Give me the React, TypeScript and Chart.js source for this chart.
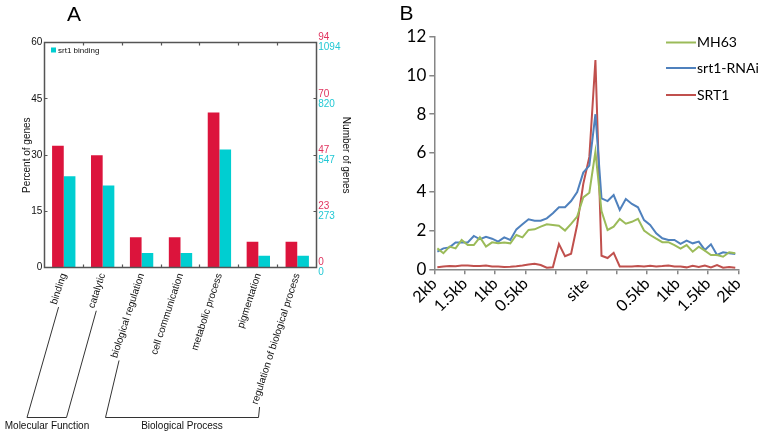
import React, { useEffect, useRef } from 'react';
import { Chart, registerables } from 'chart.js';
Chart.register(...registerables);

// ---------- Panel A data ----------
const goCategories = [
  'binding',
  'catalytic',
  'biological regulation',
  'cell communication',
  'metabolic process',
  'pigmentation',
  'regulation of biological process',
];
const genomePercent = [32.5, 30.0, 8.1, 8.1, 41.4, 6.9, 6.9];
const srt1BindingPercent = [24.4, 21.9, 3.9, 3.9, 31.5, 3.2, 3.2];
const percentTicks = [0, 15, 30, 45, 60];
const genomeCountTicks = ['0', '23', '47', '70', '94'];
const srt1CountTicks = ['0', '273', '547', '820', '1094'];

// ---------- Panel B data ----------
const positionTickLabels = ['2kb', '1.5kb', '1kb', '0.5kb', '', 'site', '', '0.5kb', '1kb', '1.5kb', '2kb'];
const mh63 = [
  1.08, 0.83, 1.17, 1.08, 1.51, 1.25, 1.25, 1.65, 1.17, 1.39,
  1.34, 1.38, 1.34, 1.77, 1.65, 2.03, 2.06, 2.2, 2.32, 2.29,
  2.25, 2.0, 2.34, 2.72, 3.71, 3.95, 6.07, 3.0, 2.03, 2.2,
  2.6, 2.35, 2.45, 2.6, 2.0, 1.77, 1.58, 1.4, 1.4, 1.25,
  1.07, 1.25, 0.91, 1.17, 0.96, 0.74, 0.74, 0.65, 0.88, 0.83,
];
const srt1Rnai = [
  0.91, 1.08, 1.13, 1.38, 1.38, 1.38, 1.72, 1.55, 1.68, 1.58,
  1.43, 1.65, 1.51, 2.06, 2.32, 2.58, 2.51, 2.51, 2.63, 2.89,
  3.2, 3.2, 3.52, 3.99, 4.99, 5.35, 8.0, 3.66, 3.52, 3.83,
  3.06, 3.63, 3.37, 3.2, 2.54, 2.29, 1.86, 1.6, 1.51, 1.51,
  1.31, 1.48, 1.34, 1.43, 1.0, 1.29, 0.74, 0.88, 0.83, 0.79,
];
const srt1 = [
  0.1, 0.15, 0.17, 0.16, 0.2, 0.2, 0.17, 0.17, 0.2, 0.15,
  0.15, 0.12, 0.13, 0.16, 0.2, 0.25, 0.28, 0.22, 0.08, 0.1,
  1.3, 0.68, 0.8, 2.3, 4.4, 5.8, 10.8, 0.7, 0.58, 0.85,
  0.15, 0.15, 0.15, 0.17, 0.15, 0.18, 0.15, 0.17, 0.2, 0.15,
  0.14, 0.1, 0.18, 0.12, 0.2, 0.1, 0.22, 0.08, 0.12, 0.08,
];
const seriesNames = ['MH63', 'srt1-RNAi', 'SRT1'];
const seriesColors = ['#9BBB59', '#4F81BD', '#C0504D'];

const FA = '"Liberation Sans", Arial, Helvetica, sans-serif';
const FB = 'Lato, "Open Sans", "Liberation Sans", sans-serif';
const RED = '#DC143C';
const CYAN = '#00CED1';
const FRAME = '#555555';

const panelAPlugin = {
  id: 'panelADecor',
  afterDraw(chart: any) {
    const ctx = chart.ctx;
    const ca = chart.chartArea;
    const ys = chart.scales.y;
    const xs = chart.scales.x;
    ctx.save();

    // frame + inward ticks
    const left = Math.floor(ca.left) + 0.5;
    const right = Math.floor(ca.right) + 0.5;
    const top = Math.floor(ca.top) + 0.5;
    const bottom = Math.floor(ca.bottom) + 0.5;
    ctx.strokeStyle = FRAME;
    ctx.lineWidth = 1.5;
    ctx.beginPath();
    ctx.moveTo(left, top);
    ctx.lineTo(right, top);
    ctx.lineTo(right, bottom);
    ctx.lineTo(left, bottom);
    ctx.closePath();
    ctx.stroke();
    ctx.lineWidth = 1.2;
    ctx.beginPath();
    percentTicks.forEach((v) => {
      const y = Math.floor(ys.getPixelForValue(v)) + 0.5;
      ctx.moveTo(left, y);
      ctx.lineTo(left + 3, y);
      ctx.moveTo(right, y);
      ctx.lineTo(right - 3, y);
    });
    const n = goCategories.length;
    const step = (ca.right - ca.left) / n;
    for (let k = 1; k < n; k++) {
      const x = Math.floor(ca.left + k * step) + 0.5;
      ctx.moveTo(x, top);
      ctx.lineTo(x, top + 3);
      ctx.moveTo(x, bottom);
      ctx.lineTo(x, bottom - 3);
    }
    ctx.stroke();

    // right axis coloured count labels
    ctx.font = `10px ${FA}`;
    ctx.textAlign = 'left';
    ctx.textBaseline = 'middle';
    percentTicks.forEach((v, i) => {
      const y = ys.getPixelForValue(v);
      ctx.fillStyle = '#E0335E';
      ctx.fillText(genomeCountTicks[i], ca.right + 1.5, y - 5);
      ctx.fillStyle = '#22C8D4';
      ctx.fillText(srt1CountTicks[i], ca.right + 1.5, y + 5);
    });

    // axis titles
    ctx.fillStyle = '#111';
    ctx.font = `10px ${FA}`;
    ctx.textAlign = 'center';
    const midY = (ca.top + ca.bottom) / 2;
    ctx.save();
    ctx.translate(27, midY);
    ctx.rotate(-Math.PI / 2);
    ctx.fillText('Percent of genes', 0, 0);
    ctx.restore();
    ctx.save();
    ctx.translate(346, midY);
    ctx.rotate(Math.PI / 2);
    ctx.fillText('Number of genes', 0, 0);
    ctx.restore();

    // legend
    ctx.fillStyle = CYAN;
    ctx.fillRect(51, 47.5, 5, 5);
    ctx.fillStyle = '#111';
    ctx.font = `8px ${FA}`;
    ctx.textAlign = 'left';
    ctx.fillText('srt1 binding', 58, 50.5);

    // brackets from label starts
    ctx.font = `10px ${FA}`;
    const rot = (72 * Math.PI) / 180;
    const labelStart = (i: number) => {
      const px = xs.getPixelForValue(i);
      const w = ctx.measureText(goCategories[i]).width + 3;
      const ay = ca.bottom + 4;
      return [px - Math.cos(rot) * w + Math.sin(rot) * 6, ay + Math.sin(rot) * w + Math.cos(rot) * 6];
    };
    const bottomY = 417.5;
    ctx.strokeStyle = '#333';
    ctx.lineWidth = 1;
    ctx.beginPath();
    let s = labelStart(0);
    ctx.moveTo(s[0], s[1]);
    ctx.lineTo(27, bottomY);
    ctx.lineTo(66.5, bottomY);
    s = labelStart(1);
    ctx.lineTo(s[0], s[1]);
    s = labelStart(2);
    ctx.moveTo(s[0], s[1]);
    ctx.lineTo(105.5, bottomY);
    ctx.lineTo(258.5, bottomY);
    s = labelStart(6);
    ctx.lineTo(s[0], s[1]);
    ctx.stroke();

    ctx.fillStyle = '#111';
    ctx.textAlign = 'center';
    ctx.textBaseline = 'middle';
    ctx.fillText('Molecular Function', 47, 426);
    ctx.fillText('Biological Process', 182, 426);

    // panel letter
    ctx.font = `21px ${FA}`;
    ctx.textBaseline = 'alphabetic';
    ctx.fillStyle = '#000';
    ctx.fillText('A', 74, 21);
    ctx.restore();
  },
};

const panelBPlugin = {
  id: 'panelBDecor',
  afterDraw(chart: any) {
    const ctx = chart.ctx;
    ctx.save();
    const rows = [42.5, 68, 95];
    ctx.font = `14px ${FB}`;
    ctx.textBaseline = 'middle';
    ctx.textAlign = 'left';
    seriesNames.forEach((name, i) => {
      ctx.strokeStyle = seriesColors[i];
      ctx.lineWidth = 2;
      ctx.beginPath();
      ctx.moveTo(286, rows[i]);
      ctx.lineTo(316, rows[i]);
      ctx.stroke();
      ctx.fillStyle = '#000';
      ctx.fillText(name, 317, rows[i]);
    });
    ctx.font = `21px ${FA}`;
    ctx.textBaseline = 'alphabetic';
    ctx.textAlign = 'center';
    ctx.fillText('B', 26.5, 20);
    ctx.restore();
  },
};

export default function App() {
  const refA = useRef<HTMLCanvasElement>(null);
  const refB = useRef<HTMLCanvasElement>(null);

  useEffect(() => {
    const chartA = new Chart(refA.current as HTMLCanvasElement, {
      type: 'bar',
      data: {
        labels: goCategories,
        datasets: [
          { label: 'genome', data: genomePercent, backgroundColor: RED, borderWidth: 0 },
          { label: 'srt1 binding', data: srt1BindingPercent, backgroundColor: CYAN, borderWidth: 0 },
        ],
      },
      options: {
        responsive: false,
        animation: false,
        devicePixelRatio: 1,
        datasets: { bar: { categoryPercentage: 0.6, barPercentage: 1.0 } },
        layout: { padding: { left: 0, right: 63.3, top: 42.7, bottom: 0 } },
        plugins: { legend: { display: false }, tooltip: { enabled: false } },
        scales: {
          x: {
            grid: { display: false, drawTicks: false },
            border: { display: false },
            ticks: {
              autoSkip: false,
              minRotation: 72,
              maxRotation: 72,
              padding: 4,
              color: '#111',
              font: { family: FA, size: 10 },
            },
            afterFit: (s: any) => { s.height = 435 - 267.7; },
          },
          y: {
            min: 0,
            max: 60,
            grid: { display: false, drawTicks: false },
            border: { display: false },
            ticks: { stepSize: 15, padding: 2, color: '#111', font: { family: FA, size: 10 } },
            afterFit: (s: any) => { s.width = 44.3; },
          },
        },
      },
      plugins: [panelAPlugin],
    } as any);

    const toPts = (arr: number[]) => arr.map((y, i) => ({ x: i + 0.5, y }));
    const chartB = new Chart(refB.current as HTMLCanvasElement, {
      type: 'line',
      data: {
        datasets: [
          { label: seriesNames[0], data: toPts(mh63), borderColor: seriesColors[0] },
          { label: seriesNames[1], data: toPts(srt1Rnai), borderColor: seriesColors[1] },
          { label: seriesNames[2], data: toPts(srt1), borderColor: seriesColors[2] },
        ],
      },
      options: {
        responsive: false,
        animation: false,
        devicePixelRatio: 1,
        elements: { point: { radius: 0 }, line: { borderWidth: 2, tension: 0 } },
        layout: { padding: { left: 0, right: 20.7, top: 36.7, bottom: 0 } },
        plugins: { legend: { display: false }, tooltip: { enabled: false } },
        scales: {
          x: {
            type: 'linear',
            min: 0,
            max: 50,
            grid: { display: true, drawOnChartArea: false, drawTicks: true, tickLength: 5, color: '#868686', lineWidth: 1.5 },
            border: { display: true, color: '#868686', width: 1.5 },
            ticks: {
              stepSize: 5,
              autoSkip: false,
              minRotation: 45,
              maxRotation: 45,
              padding: 0,
              color: '#000',
              font: { family: FB, size: 16 },
              callback: (v: any) => positionTickLabels[Math.round(Number(v) / 5)] ?? '',
            },
            afterFit: (s: any) => { s.height = 435 - 269.3; },
          },
          y: {
            min: 0,
            max: 12,
            grid: { display: true, drawOnChartArea: false, drawTicks: true, tickLength: 5, color: '#868686', lineWidth: 1.5 },
            border: { display: true, color: '#868686', width: 1.5 },
            ticks: { stepSize: 2, padding: 3, color: '#000', font: { family: FB, size: 17 } },
            afterFit: (s: any) => { s.width = 54.3; },
          },
        },
      },
      plugins: [panelBPlugin],
    } as any);

    return () => {
      chartA.destroy();
      chartB.destroy();
    };
  }, []);

  return (
    <div style={{ position: 'absolute', left: 0, top: 0, width: 759, height: 435, background: '#fff' }}>
      <canvas ref={refA} width={380} height={435} style={{ position: 'absolute', left: 0, top: 0, width: 380, height: 435 }} />
      <canvas ref={refB} width={379} height={435} style={{ position: 'absolute', left: 380, top: 0, width: 379, height: 435 }} />
    </div>
  );
}
